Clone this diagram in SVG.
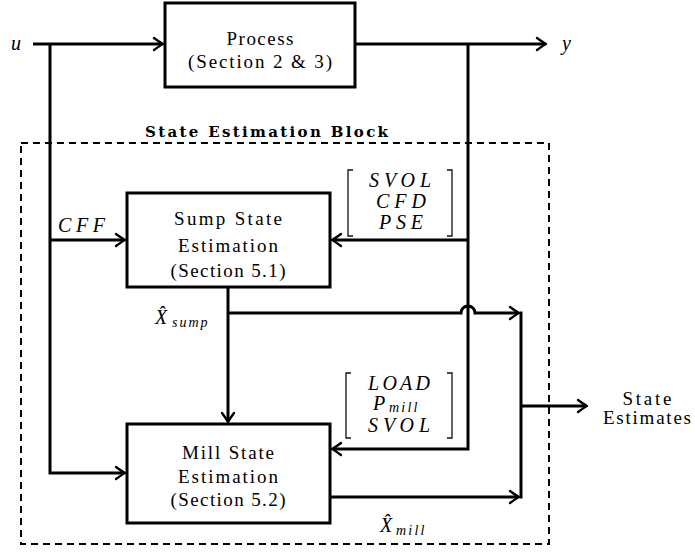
<svg xmlns="http://www.w3.org/2000/svg" width="695" height="552" viewBox="0 0 695 552">
<defs>
<style>
.box{fill:#fff;stroke:#000;stroke-width:3}
.ln{fill:none;stroke:#000;stroke-width:3;stroke-linejoin:miter}
.arr{marker-end:url(#ah)}
.br{fill:none;stroke:#111;stroke-width:1.3}
.rm{font-family:'Liberation Serif','DejaVu Serif',serif;font-size:19px;fill:#000;text-anchor:middle}
.mi{font-family:'Liberation Serif','DejaVu Serif',serif;font-style:italic;font-size:20px;fill:#000}
.sub{font-size:14px}
.ttl{font-family:'DejaVu Serif','Liberation Serif',serif;font-weight:bold;font-size:15px;fill:#000;text-anchor:middle}
</style>
<marker id="ah" viewBox="-10 -8 14 16" markerWidth="14" markerHeight="16" refX="-1" refY="0" orient="auto" markerUnits="userSpaceOnUse" overflow="visible">
<path d="M-9,-6 Q-2.5,-1.3 0,0 Q-2.5,1.3 -9,6" fill="none" stroke="#000" stroke-width="2.4" stroke-linecap="round" stroke-linejoin="round"/>
</marker>
</defs>
<rect width="695" height="552" fill="#fff"/>

<g id="state-estimation-block">
<rect x="21" y="143" width="528" height="401" fill="none" stroke="#000" stroke-width="2" stroke-dasharray="7 5"/>
<text class="ttl" x="266.5" y="137" textLength="243">State Estimation Block</text>
</g>

<g id="connectors">
<path class="ln arr" d="M33,44 H162"/>
<path class="ln arr" d="M355,44 H545"/>
<path class="ln arr" d="M50,44 V473 H124"/>
<path class="ln arr" d="M50,240 H124"/>
<path class="ln arr" d="M468,44 V449 H333"/>
<path class="ln arr" d="M468,240 H333"/>
<path class="ln arr" d="M228,287 V421"/>
<path class="ln arr" d="M228,313 H461 A7,7 0 0 1 475,313 H518"/>
<path class="ln arr" d="M330,497 H518"/>
<path class="ln" d="M521,311.5 V498.5"/>
<path class="ln arr" d="M521,406 H586"/>
</g>

<g id="process">
<rect class="box" x="165" y="3" width="190" height="84"/>
<text class="rm" x="260" y="45" textLength="67">Process</text>
<text class="rm" x="260" y="68" textLength="144">(Section 2 &amp; 3)</text>
</g>

<g id="sump">
<rect class="box" x="127" y="193" width="203" height="94"/>
<text class="rm" x="228" y="225" textLength="108">Sump State</text>
<text class="rm" x="228" y="252" textLength="100">Estimation</text>
<text class="rm" x="228" y="277" textLength="115">(Section 5.1)</text>
</g>

<g id="mill">
<rect class="box" x="127" y="424" width="203" height="99"/>
<text class="rm" x="228" y="459" textLength="92">Mill State</text>
<text class="rm" x="228" y="483" textLength="100">Estimation</text>
<text class="rm" x="228" y="506" textLength="115">(Section 5.2)</text>
</g>

<g id="labels">
<text class="mi" x="11" y="50">u</text>
<text class="mi" x="562" y="50">y</text>
<text class="mi" x="58" y="232" textLength="47">CFF</text>
<text class="mi" x="155" y="324">X̂<tspan class="sub" x="172" dy="3" letter-spacing="2">sump</tspan></text>
<text class="mi" x="380" y="532">X̂<tspan class="sub" x="396" dy="3" letter-spacing="2.2">mill</tspan></text>
</g>

<g id="sump-inputs">
<path class="br" d="M353,170 H348 V236 H353"/>
<path class="br" d="M447,170 H452 V236 H447"/>
<text class="mi" x="400" y="187" text-anchor="middle" textLength="62">SVOL</text>
<text class="mi" x="401" y="208" text-anchor="middle" textLength="50">CFD</text>
<text class="mi" x="401" y="229" text-anchor="middle" textLength="44">PSE</text>
</g>

<g id="mill-inputs">
<path class="br" d="M351,373 H346 V438 H351"/>
<path class="br" d="M447,373 H452 V438 H447"/>
<text class="mi" x="399" y="390" text-anchor="middle" textLength="62">LOAD</text>
<text class="mi" x="373" y="410">P<tspan class="sub" x="389" dy="2" letter-spacing="2.2">mill</tspan></text>
<text class="mi" x="399" y="432" text-anchor="middle" textLength="62">SVOL</text>
</g>

<g id="state-estimates">
<text class="rm" x="647" y="405" font-size="14.5" textLength="49">State</text>
<text class="rm" x="647" y="424" font-size="14.5" textLength="88">Estimates</text>
</g>
</svg>
